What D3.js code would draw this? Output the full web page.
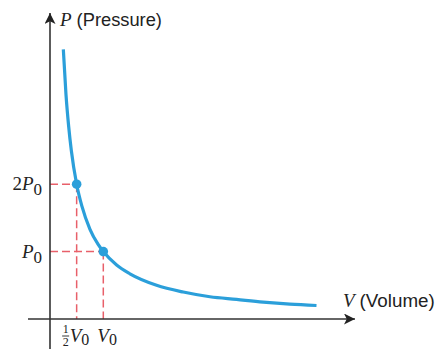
<!DOCTYPE html>
<html>
<head>
<meta charset="utf-8">
<script src="https://cdn.jsdelivr.net/npm/d3@7"></script>
<style>
body { margin: 0; background: #fff; }
svg { display: block; }
</style>
</head>
<body>
<div id="chart"></div>
<script>
var svgWidth = 437;
var svgHeight = 349;

// curve (V in units of V0, P in units of P0)
var curveV = [0.25, 0.3, 0.35, 0.4, 0.5, 0.6, 0.75, 0.9, 1, 1.25, 1.5, 2, 2.5, 3, 3.5, 4, 4.5, 5];
var curveP = [4.0, 3.33, 2.86, 2.5, 2.0, 1.67, 1.33, 1.11, 1.0, 0.8, 0.67, 0.5, 0.4, 0.33, 0.29, 0.25, 0.22, 0.2];

// marked states
var markV = [0.5, 1];
var markP = [2, 1];

var yTickLabels = [{ pre: "2", sym: "P", sub: "0" }, { pre: "", sym: "P", sub: "0" }];
var xTickLabels = [{ frac: true, sym: "V", sub: "0" }, { frac: false, sym: "V", sub: "0" }];

var svg = d3.select("#chart")
    .append("svg")
    .attr("width", svgWidth)
    .attr("height", svgHeight);

var x = d3.scaleLinear().domain([0, 5]).range([50, 316.5]);
var y = d3.scaleLinear().domain([0, 4]).range([319, 49.4]);

var axisColor = "#333";
var dashColor = "#e8606a";
var curveColor = "#2b9fda";

svg.append("defs").append("marker")
    .attr("id", "arrow")
    .attr("viewBox", "0 0 10 10")
    .attr("refX", 10)
    .attr("refY", 5)
    .attr("markerWidth", 11)
    .attr("markerHeight", 11)
    .attr("markerUnits", "userSpaceOnUse")
    .attr("orient", "auto")
    .append("path")
    .attr("d", "M0,0 L10,5 L0,10 L2.5,5 Z")
    .attr("fill", "#222");

// dashed guides
markV.forEach(function(v, i) {
    svg.append("line")
        .attr("x1", x(0)).attr("y1", y(markP[i]))
        .attr("x2", x(v)).attr("y2", y(markP[i]))
        .attr("stroke", dashColor).attr("stroke-width", 1.5)
        .attr("stroke-dasharray", "8,4");
    svg.append("line")
        .attr("x1", x(v)).attr("y1", y(markP[i]))
        .attr("x2", x(v)).attr("y2", y(0))
        .attr("stroke", dashColor).attr("stroke-width", 1.5)
        .attr("stroke-dasharray", "8,4");
});

// axes
svg.append("line")
    .attr("x1", 28).attr("y1", y(0))
    .attr("x2", 355).attr("y2", y(0))
    .attr("stroke", axisColor).attr("stroke-width", 1.6)
    .attr("marker-end", "url(#arrow)");
svg.append("line")
    .attr("x1", x(0)).attr("y1", svgHeight)
    .attr("x2", x(0)).attr("y2", 13)
    .attr("stroke", axisColor).attr("stroke-width", 1.6)
    .attr("marker-end", "url(#arrow)");

// curve
var line = d3.line()
    .x(function(d, i) { return x(curveV[i]); })
    .y(function(d, i) { return y(curveP[i]); })
    .curve(d3.curveMonotoneX);

svg.append("path")
    .datum(curveV)
    .attr("d", line)
    .attr("fill", "none")
    .attr("stroke", curveColor)
    .attr("stroke-width", 3.2);

svg.selectAll(".dot")
    .data(markV)
    .enter()
    .append("circle")
    .attr("cx", function(d) { return x(d); })
    .attr("cy", function(d, i) { return y(markP[i]); })
    .attr("r", 4.8)
    .attr("fill", curveColor);

// tick labels
var serif = "'Liberation Serif', 'DejaVu Serif', serif";

yTickLabels.forEach(function(t, i) {
    var txt = svg.append("text")
        .attr("x", 42)
        .attr("y", y(markP[i]) + 6)
        .attr("text-anchor", "end")
        .attr("font-family", serif)
        .attr("font-size", 19)
        .attr("fill", "#222");
    if (t.pre) txt.append("tspan").text(t.pre);
    txt.append("tspan").attr("font-style", "italic").text(t.sym);
    txt.append("tspan").attr("dy", 5).attr("font-size", 17).text(t.sub);
});

xTickLabels.forEach(function(t, i) {
    var cx = x(markV[i]);
    var g = svg.append("g");
    var tx;
    if (t.frac) {
        g.append("text").attr("x", cx - 11).attr("y", 333)
            .attr("text-anchor", "middle").attr("font-family", serif)
            .attr("font-size", 12).attr("fill", "#222").text("1");
        g.append("line").attr("x1", cx - 14.5).attr("x2", cx - 7.5)
            .attr("y1", 336).attr("y2", 336).attr("stroke", "#222").attr("stroke-width", 0.9);
        g.append("text").attr("x", cx - 11).attr("y", 346)
            .attr("text-anchor", "middle").attr("font-family", serif)
            .attr("font-size", 12).attr("fill", "#222").text("2");
        tx = cx - 7;
    } else {
        tx = cx - 6;
    }
    var txt = g.append("text")
        .attr("x", tx)
        .attr("y", 342)
        .attr("font-family", serif)
        .attr("font-size", 19)
        .attr("fill", "#222");
    txt.append("tspan").attr("font-style", "italic").text(t.sym);
    txt.append("tspan").attr("dy", 3).attr("font-size", 16).text(t.sub);
});

// axis titles
var sans = "'Liberation Sans', Arial, sans-serif";
var yTitle = svg.append("text")
    .attr("x", 60).attr("y", 26)
    .attr("font-size", 18.3).attr("fill", "#222");
yTitle.append("tspan").attr("font-family", serif).attr("font-style", "italic").attr("font-size", 19).text("P");
yTitle.append("tspan").attr("font-family", sans).attr("dx", 5).text("(Pressure)");

var xTitle = svg.append("text")
    .attr("x", 343).attr("y", 307)
    .attr("font-size", 18.8).attr("fill", "#222");
xTitle.append("tspan").attr("font-family", serif).attr("font-style", "italic").attr("font-size", 19).text("V");
xTitle.append("tspan").attr("font-family", sans).attr("dx", 5).text("(Volume)");
</script>
</body>
</html>
